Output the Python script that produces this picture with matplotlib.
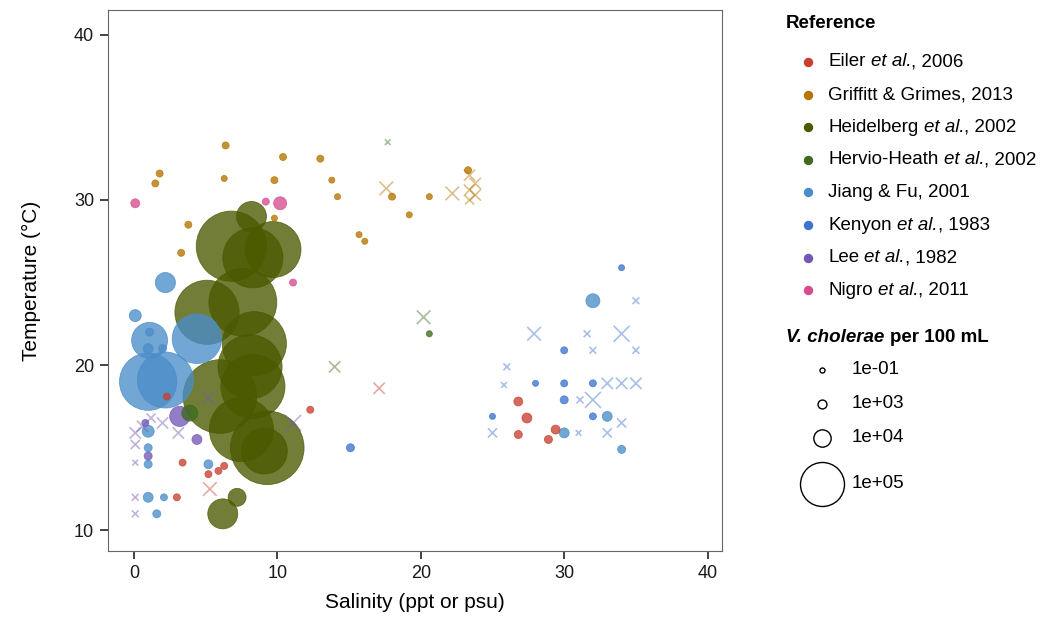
import numpy as np
import matplotlib.pyplot as plt

plt.rcParams['font.family'] = ['Liberation Sans', 'DejaVu Sans']

# Studies, in legend order: (name, italic part, year part)
references = [
    ('Eiler', 'et al.', ', 2006'),
    ('Griffitt & Grimes, 2013', '', ''),
    ('Heidelberg', 'et al.', ', 2002'),
    ('Hervio-Heath', 'et al.', ', 2002'),
    ('Jiang & Fu, 2001', '', ''),
    ('Kenyon', 'et al.', ', 1983'),
    ('Lee', 'et al.', ', 1982'),
    ('Nigro', 'et al.', ', 2011'),
]
ref_colors = ['#C8402F', '#B57300', '#4B5A00', '#3E6B1E',
              '#4B8DC9', '#3D73D0', '#7358B6', '#D74B8D']

# salinity (ppt), temperature (C), V. cholerae per 100 mL
eiler_sal = [2.3, 3.4, 5.2, 5.9, 6.3, 12.3, 3.0, 26.8, 27.4, 26.8, 28.9, 29.4]
eiler_temp = [18.1, 14.1, 13.4, 13.6, 13.9, 17.3, 12.0, 17.8, 16.8, 15.8, 15.5, 16.1]
eiler_n = [260, 260, 260, 260, 260, 260, 260, 1000, 1600, 600, 600, 1000]

griffitt_sal = [6.4, 10.4, 13.0, 1.8, 1.5, 6.3, 9.8, 13.8, 14.2, 18.0, 20.6, 19.2,
                3.8, 3.3, 15.7, 16.1, 23.3, 9.8]
griffitt_temp = [33.3, 32.6, 32.5, 31.6, 31.0, 31.3, 31.2, 31.2, 30.2, 30.2, 30.2, 29.1,
                 28.5, 26.8, 27.9, 27.5, 31.8, 28.9]
griffitt_n = [260, 260, 260, 260, 260, 70, 260, 70, 70, 260, 70, 70,
              260, 260, 70, 70, 260, 70]

heidelberg_sal = [8.2, 6.8, 9.7, 8.3, 5.1, 7.6, 8.4, 6.0, 8.1, 8.3, 7.5, 9.3, 9.1, 7.2, 6.2]
heidelberg_temp = [29.0, 27.2, 27.0, 26.5, 23.2, 23.8, 21.3, 18.1, 19.9, 18.7, 16.1, 15.0,
                   14.8, 12.0, 11.0]
heidelberg_n = [41000, 280000, 171000, 200000, 230000, 260000, 230000, 310000, 230000,
                230000, 230000, 310000, 110000, 11000, 41000]

hervio_sal = [3.9, 20.6]
hervio_temp = [17.1, 21.9]
hervio_n = [8000, 70]

jiang_sal = [1.0, 2.2, 1.1, 4.4, 0.1, 2.2, 1.1, 1.0, 2.0, 1.0, 1.0, 1.0, 5.2, 1.0, 2.1,
             1.6, 32.0, 33.0, 30.0, 34.0]
jiang_temp = [19.0, 19.1, 21.5, 21.6, 23.0, 25.0, 22.0, 21.0, 21.0, 16.0, 15.0, 14.0, 14.0,
              12.0, 12.0, 11.0, 23.9, 16.9, 15.9, 14.9]
jiang_n = [180000, 171000, 63000, 130000, 3200, 15000, 600, 1600, 600, 3200, 600, 600,
           1000, 1600, 260, 600, 5300, 1600, 1600, 600]

kenyon_sal = [34.0, 30.0, 28.0, 30.0, 32.0, 30.0, 25.0, 32.0, 15.1]
kenyon_temp = [25.9, 20.9, 18.9, 18.9, 18.9, 17.9, 16.9, 16.9, 15.0]
kenyon_n = [70, 260, 70, 260, 260, 600, 70, 260, 600]

lee_sal = [3.2, 0.8, 1.0, 4.4]
lee_temp = [16.9, 16.5, 14.5, 15.5]
lee_n = [15000, 260, 600, 1600]

nigro_sal = [0.1, 10.2, 9.2, 11.1]
nigro_temp = [29.8, 29.8, 29.9, 25.0]
nigro_n = [1000, 4200, 260, 260]

# second sample type, drawn as crosses (index into references)
cross_ref = [1, 1, 1, 1, 1, 1, 1,
             3, 3, 3,
             0, 0,
             6, 6, 6, 6, 6, 6, 6, 6, 6, 6, 6,
             5, 5, 5, 5, 5, 5, 5, 5, 5, 5, 5, 5, 5, 5, 5, 5, 5]
cross_sal = [17.6, 22.2, 23.4, 23.8, 23.4, 23.8, 23.4,
             20.2, 14.0, 17.7,
             5.3, 17.1,
             11.1, 0.1, 0.6, 0.1, 2.0, 3.1, 5.2, 0.1, 0.1, 0.1, 1.2,
             35.0, 27.9, 31.6, 34.0, 32.0, 35.0, 26.0, 25.8, 33.0, 34.0, 35.0, 31.1,
             32.0, 34.0, 25.0, 31.0, 33.0]
cross_temp = [30.7, 30.4, 31.5, 31.0, 30.6, 30.3, 30.0,
              22.9, 19.9, 33.5,
              12.5, 18.6,
              16.5, 15.9, 16.3, 15.2, 16.5, 15.9, 18.0, 14.1, 12.0, 11.0, 16.8,
              23.9, 21.9, 21.9, 21.9, 20.9, 20.9, 19.9, 18.8, 18.9, 18.9, 18.9, 17.9,
              17.9, 16.5, 15.9, 15.9, 15.9]
cross_n = [3200, 3200, 1600, 1600, 1600, 1600, 600,
           3200, 1600, 0.1,
           3200, 1600,
           5300, 1600, 1600, 600, 1600, 1600, 3200, 0.1, 70, 70, 600,
           70, 3200, 70, 5300, 70, 70, 70, 0.1, 1600, 1600, 1600, 70,
           5300, 600, 600, 0.1, 600]

size_breaks = [0.1, 1e3, 1e4, 1e5]
size_labels = ['1e-01', '1e+03', '1e+04', '1e+05']


def diameter(n):
    # pixel diameter, area-scaled like ggplot's scale_size
    return 5 + 39 * np.sqrt(np.asarray(n, dtype=float) / 1e5)


def marker_area(n):
    return (diameter(n) * 72 / 100) ** 2


series = [
    (eiler_sal, eiler_temp, eiler_n),
    (griffitt_sal, griffitt_temp, griffitt_n),
    (heidelberg_sal, heidelberg_temp, heidelberg_n),
    (hervio_sal, hervio_temp, hervio_n),
    (jiang_sal, jiang_temp, jiang_n),
    (kenyon_sal, kenyon_temp, kenyon_n),
    (lee_sal, lee_temp, lee_n),
    (nigro_sal, nigro_temp, nigro_n),
]

sal, temp, n, col = [], [], [], []
for (s, t, v), c in zip(series, ref_colors):
    sal += s
    temp += t
    n += v
    col += [c] * len(s)
sal, temp, n = np.array(sal), np.array(temp), np.array(n, dtype=float)
order = np.argsort(-n, kind='stable')  # big bubbles underneath

fig = plt.figure(figsize=(10.42, 6.4), dpi=100)
ax = fig.add_axes([108 / 1042, 1 - 551 / 640, 614 / 1042, 541 / 640])

ax.scatter(sal[order], temp[order], s=marker_area(n[order]),
           c=[col[i] for i in order], edgecolors=[col[i] for i in order],
           linewidths=0.6, alpha=0.78, zorder=2)

ax.scatter(cross_sal, cross_temp, s=marker_area(cross_n) * 1.3, marker='x',
           c=[ref_colors[r] for r in cross_ref], linewidths=1.2, alpha=0.45, zorder=3)

ax.set_xlim(-1.8, 41.0)
ax.set_ylim(8.75, 41.5)
ax.set_xticks([0, 10, 20, 30, 40])
ax.set_yticks([10, 20, 30, 40])
for sp in ax.spines.values():
    sp.set_color('#666666')
    sp.set_linewidth(0.8)
ax.tick_params(length=6, width=1.2, color='#222222', labelsize=13,
               labelcolor='#1a1a1a', pad=4)
ax.set_xlabel('Salinity (ppt or psu)', fontsize=15, labelpad=8)
ax.set_ylabel('Temperature (°C)', fontsize=15, labelpad=24)

# legends on the right, laid out in pixel units
lax = fig.add_axes([0, 0, 1, 1], zorder=-1)
lax.set_xlim(0, 1042)
lax.set_ylim(640, 0)
lax.axis('off')
renderer = fig.canvas.get_renderer()


def text_width(s, **kw):
    t = lax.text(0, 0, s, **kw)
    w = t.get_window_extent(renderer).width
    t.remove()
    return w


def space_width(**kw):
    return text_width('x x', **kw) - text_width('xx', **kw)


LEG_SIZE = 13.5
lax.text(786, 24, 'Reference', fontsize=LEG_SIZE, fontweight='bold', va='center')
for i, ((name, ital, tail), c) in enumerate(zip(references, ref_colors)):
    y = 62 + i * 32.6
    lax.scatter(808, y, s=(8 * 0.72) ** 2, color=c)
    lax.text(828, y, name, fontsize=LEG_SIZE, va='center')
    if ital:
        x = 828 + text_width(name, fontsize=LEG_SIZE) + space_width(fontsize=LEG_SIZE)
        lax.text(x, y, ital, fontsize=LEG_SIZE, style='italic', va='center')
        x += text_width(ital, fontsize=LEG_SIZE, style='italic')
        lax.text(x, y, tail, fontsize=LEG_SIZE, va='center')

lax.text(786, 338, 'V. cholerae', fontsize=LEG_SIZE, fontweight='bold',
         style='italic', va='center')
x = 786 + text_width('V. cholerae', fontsize=LEG_SIZE, fontweight='bold', style='italic')
x += space_width(fontsize=LEG_SIZE, fontweight='bold')
lax.text(x, 338, 'per 100 mL', fontsize=LEG_SIZE, fontweight='bold', va='center')

y = 370
prev = None
for v, lab in zip(size_breaks, size_labels):
    h = max(21, float(diameter(v)))
    if prev is not None:
        y += prev / 2 + 13 + h / 2
    lax.scatter(822, y, s=marker_area(v), facecolors='white',
                edgecolors='black', linewidths=1.0)
    lax.text(852, y, lab, fontsize=LEG_SIZE, va='center')
    prev = h

fig.savefig('out.png', dpi=100)
